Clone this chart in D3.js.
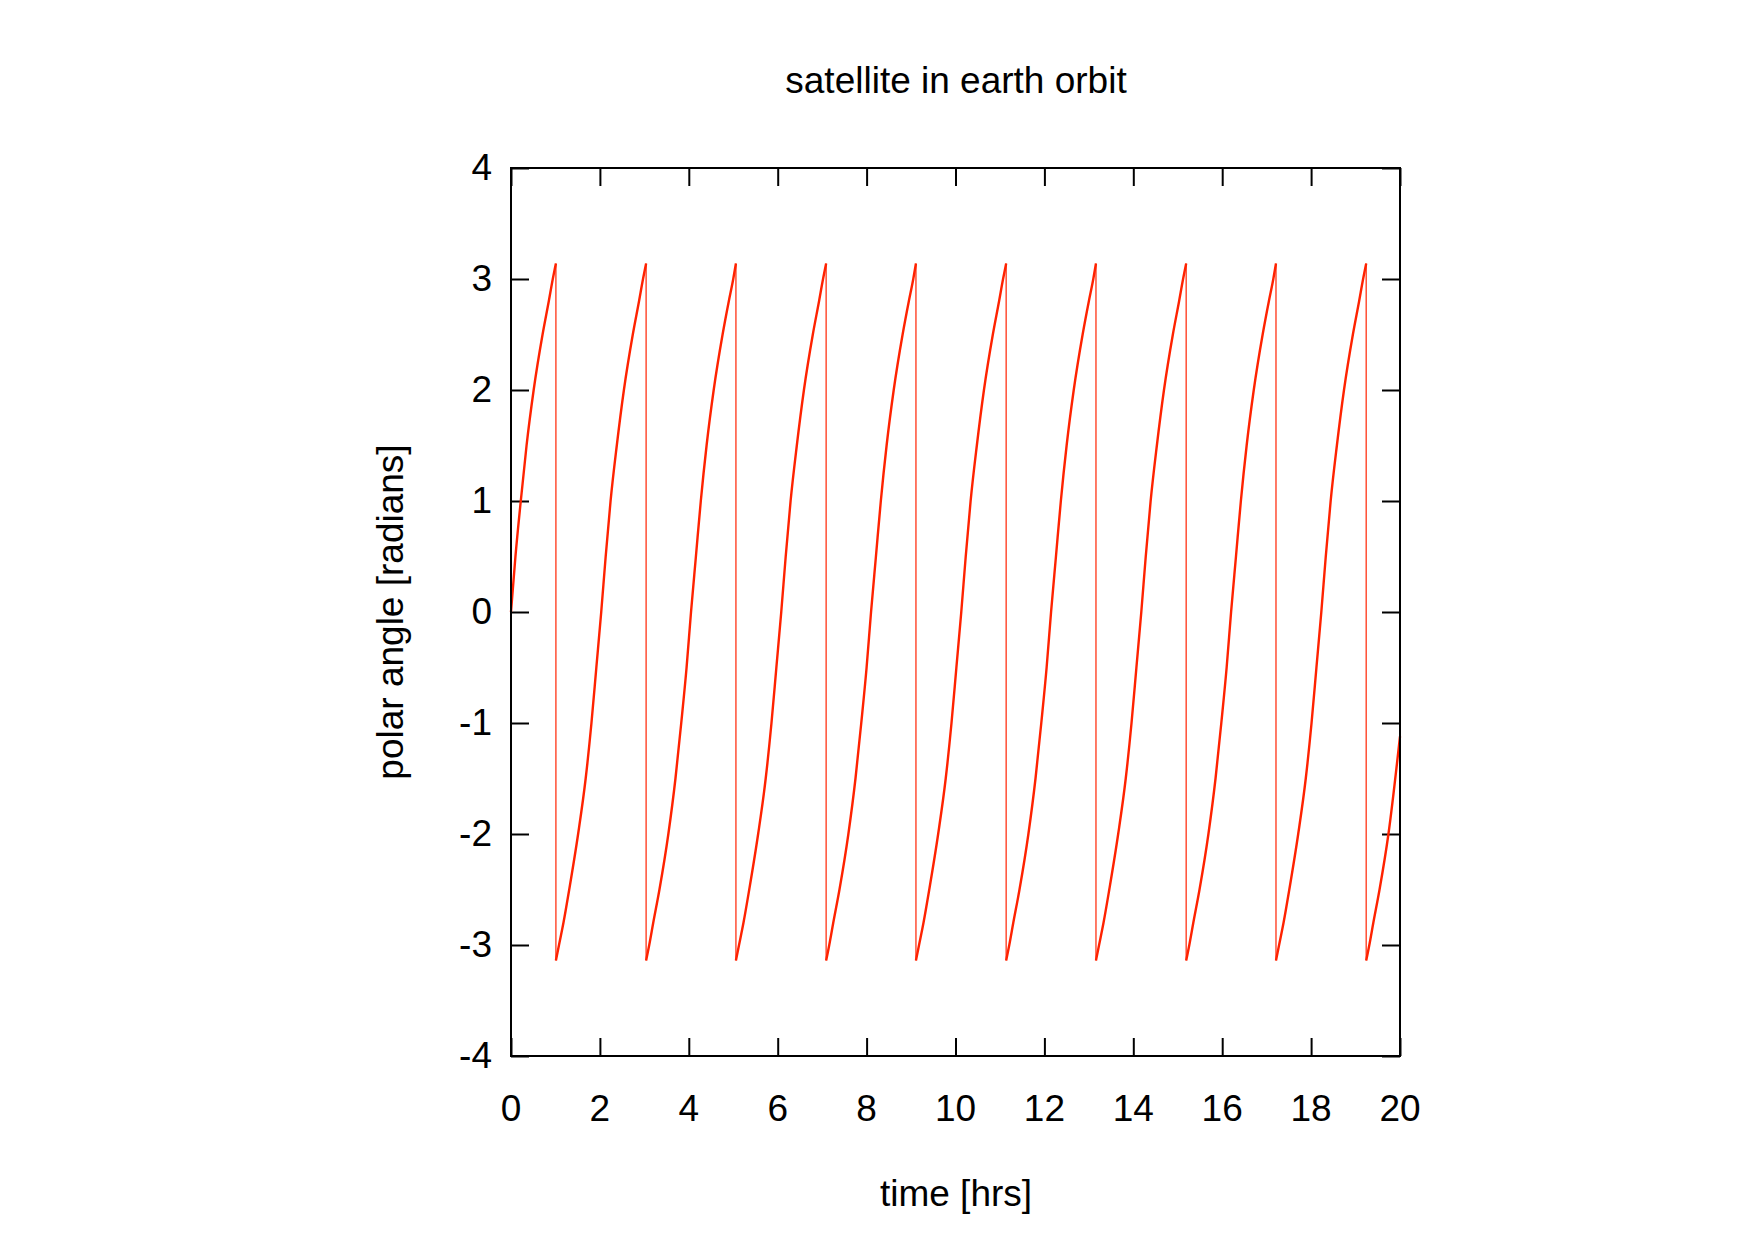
<!DOCTYPE html>
<html>
<head>
<meta charset="utf-8">
<script src="https://cdn.jsdelivr.net/npm/d3@7"></script>
<style>
  body { margin: 0; background: #fff; }
  text { font-family: "Liberation Sans", Arial, Helvetica, sans-serif; fill: #000; }
</style>
</head>
<body>
<svg width="1763" height="1238"></svg>
<script>
// values, one orbit per line
const timeHrs = [
  0, 0.10, 0.22, 0.35, 0.51, 0.71, 0.85, 0.94, 1.01,
  1.01, 1.08, 1.18, 1.31, 1.51, 1.68, 1.81, 1.92, 2.03, 2.13, 2.24, 2.38, 2.54, 2.74, 2.88, 2.97, 3.04,
  3.04, 3.11, 3.20, 3.34, 3.54, 3.70, 3.83, 3.95, 4.05, 4.16, 4.27, 4.40, 4.56, 4.76, 4.90, 5.00, 5.06,
  5.06, 5.13, 5.23, 5.36, 5.56, 5.73, 5.86, 5.97, 6.08, 6.18, 6.29, 6.43, 6.59, 6.79, 6.93, 7.02, 7.09,
  7.09, 7.16, 7.25, 7.39, 7.59, 7.75, 7.88, 8.00, 8.10, 8.21, 8.32, 8.45, 8.61, 8.81, 8.95, 9.05, 9.11,
  9.11, 9.18, 9.28, 9.41, 9.61, 9.78, 9.91, 10.02, 10.13, 10.23, 10.34, 10.48, 10.64, 10.84, 10.98, 11.07, 11.14,
  11.14, 11.21, 11.30, 11.44, 11.64, 11.80, 11.93, 12.05, 12.15, 12.26, 12.37, 12.50, 12.66, 12.86, 13.00, 13.10, 13.16,
  13.16, 13.23, 13.33, 13.46, 13.66, 13.83, 13.96, 14.07, 14.18, 14.28, 14.39, 14.53, 14.69, 14.89, 15.03, 15.12, 15.19,
  15.19, 15.26, 15.35, 15.49, 15.69, 15.85, 15.98, 16.10, 16.20, 16.31, 16.42, 16.55, 16.71, 16.91, 17.05, 17.15, 17.21,
  17.21, 17.28, 17.38, 17.51, 17.71, 17.88, 18.01, 18.12, 18.23, 18.33, 18.44, 18.58, 18.74, 18.94, 19.08, 19.17, 19.24,
  19.24, 19.31, 19.40, 19.54, 19.74, 20.00
]
const polarAngle = [
  0, 0.5, 1, 1.5, 2, 2.5, 2.8, 3, 3.14,
  -3.14, -3, -2.8, -2.5, -2, -1.5, -1, -0.5, 0, 0.5, 1, 1.5, 2, 2.5, 2.8, 3, 3.14,
  -3.14, -3, -2.8, -2.5, -2, -1.5, -1, -0.5, 0, 0.5, 1, 1.5, 2, 2.5, 2.8, 3, 3.14,
  -3.14, -3, -2.8, -2.5, -2, -1.5, -1, -0.5, 0, 0.5, 1, 1.5, 2, 2.5, 2.8, 3, 3.14,
  -3.14, -3, -2.8, -2.5, -2, -1.5, -1, -0.5, 0, 0.5, 1, 1.5, 2, 2.5, 2.8, 3, 3.14,
  -3.14, -3, -2.8, -2.5, -2, -1.5, -1, -0.5, 0, 0.5, 1, 1.5, 2, 2.5, 2.8, 3, 3.14,
  -3.14, -3, -2.8, -2.5, -2, -1.5, -1, -0.5, 0, 0.5, 1, 1.5, 2, 2.5, 2.8, 3, 3.14,
  -3.14, -3, -2.8, -2.5, -2, -1.5, -1, -0.5, 0, 0.5, 1, 1.5, 2, 2.5, 2.8, 3, 3.14,
  -3.14, -3, -2.8, -2.5, -2, -1.5, -1, -0.5, 0, 0.5, 1, 1.5, 2, 2.5, 2.8, 3, 3.14,
  -3.14, -3, -2.8, -2.5, -2, -1.5, -1, -0.5, 0, 0.5, 1, 1.5, 2, 2.5, 2.8, 3, 3.14,
  -3.14, -3, -2.8, -2.5, -2, -1.12
]
const xTicks = [0, 2, 4, 6, 8, 10, 12, 14, 16, 18, 20]
const yTicks = [-4, -3, -2, -1, 0, 1, 2, 3, 4]

const titleText = 'satellite in earth orbit'
const xLabel = 'time [hrs]'
const yLabel = 'polar angle [radians]'

const svg = d3.select('svg')
const margin = {top: 168, right: 363, bottom: 182, left: 511}
const graphWidth = 1763 - margin.left - margin.right
const graphHeight = 1238 - margin.top - margin.bottom
const tickLen = 18
const fontSize = 37

const graph = svg.append('g')
  .attr('transform', `translate(${margin.left},${margin.top})`)

// scales
const x = d3.scaleLinear().domain([0, 20]).range([0, graphWidth])
const y = d3.scaleLinear().domain([-4, 4]).range([graphHeight, 0])

// ticks pointing inwards on all four sides, labels drawn by hand
const tickStyle = g => {
  g.select('.domain').remove()
  g.selectAll('.tick line').attr('stroke', '#000').attr('stroke-width', 2)
  g.selectAll('.tick text').remove()
}
graph.append('g')
  .attr('transform', `translate(0,${graphHeight})`)
  .call(d3.axisTop(x).tickValues(xTicks).tickSize(tickLen))
  .call(tickStyle)
graph.append('g')
  .call(d3.axisBottom(x).tickValues(xTicks).tickSize(tickLen))
  .call(tickStyle)
graph.append('g')
  .call(d3.axisRight(y).tickValues(yTicks).tickSize(tickLen))
  .call(tickStyle)
graph.append('g')
  .attr('transform', `translate(${graphWidth},0)`)
  .call(d3.axisLeft(y).tickValues(yTicks).tickSize(tickLen))
  .call(tickStyle)

// tick labels
graph.selectAll('.xlab')
  .data(xTicks)
  .enter().append('text')
  .attr('x', d => x(d))
  .attr('y', graphHeight + 65)
  .attr('text-anchor', 'middle')
  .attr('font-size', fontSize)
  .text(d => d)
graph.selectAll('.ylab')
  .data(yTicks)
  .enter().append('text')
  .attr('x', -19)
  .attr('y', d => y(d))
  .attr('dy', '0.32em')
  .attr('text-anchor', 'end')
  .attr('font-size', fontSize)
  .text(d => d)

// the series, split at the wrap-around from +pi to -pi
const pts = timeHrs.map((t, i) => ({t: t, a: polarAngle[i]}))
const segments = [[]]
const jumps = []
pts.forEach((p, i) => {
  if (i > 0 && p.a < pts[i - 1].a) {
    jumps.push([pts[i - 1], p])
    segments.push([])
  }
  segments[segments.length - 1].push(p)
})

const line = d3.line()
  .x(d => x(d.t))
  .y(d => y(d.a))
  .curve(d3.curveMonotoneX)

graph.selectAll('.jump')
  .data(jumps)
  .enter().append('line')
  .attr('x1', d => x(d[0].t))
  .attr('y1', d => y(d[0].a))
  .attr('x2', d => x(d[1].t))
  .attr('y2', d => y(d[1].a))
  .attr('stroke', '#ff2200')
  .attr('stroke-width', 1.5)
  .attr('stroke-opacity', 0.8)

graph.selectAll('.seg')
  .data(segments)
  .enter().append('path')
  .attr('d', line)
  .attr('fill', 'none')
  .attr('stroke', '#ff2200')
  .attr('stroke-width', 2.4)

// frame
graph.append('rect')
  .attr('width', graphWidth)
  .attr('height', graphHeight)
  .attr('fill', 'none')
  .attr('stroke', '#000')
  .attr('stroke-width', 2)

// titles
svg.append('text')
  .attr('x', 956)
  .attr('y', 93)
  .attr('text-anchor', 'middle')
  .attr('font-size', fontSize)
  .text(titleText)
svg.append('text')
  .attr('x', 956)
  .attr('y', 1206)
  .attr('text-anchor', 'middle')
  .attr('font-size', fontSize)
  .text(xLabel)
svg.append('text')
  .attr('transform', 'translate(403,612) rotate(-90)')
  .attr('text-anchor', 'middle')
  .attr('font-size', fontSize)
  .text(yLabel)
</script>
</body>
</html>
